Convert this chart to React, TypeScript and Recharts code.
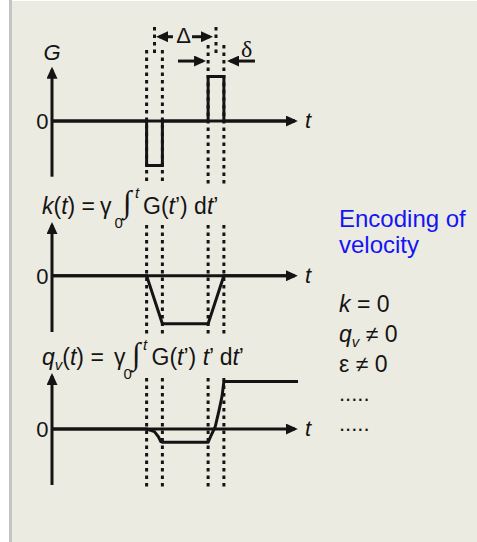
import React from "react";
import { LineChart, Line, XAxis, YAxis, ReferenceLine } from "recharts";

const W = 477;
const H = 542;
const INK = "#141414";
const BLUE = "#1414f5";
const FONT = "'Liberation Sans', Arial, sans-serif";
const SERIF = "'Liberation Serif', 'DejaVu Serif', serif";

// shared time axis (arbitrary units)
const T_MAX = 15.6;
const T_AXIS_END = 15.4;
const pulseEdges = [6, 7, 9.9, 10.9];
const pulseCentres = [6.5, 10.4];

// G(t): bipolar gradient pulse pair
const gTime = [0, 6, 6, 7, 7, 9.9, 9.9, 10.9, 10.9, 15.4];
const gValue = [0, 0, -1, -1, 0, 0, 1, 1, 0, 0];

// k(t): zeroth moment of G
const kTime = [0, 6, 7, 9.9, 10.9, 15.4];
const kValue = [0, 0, -1, -1, 0, 0];

// q_v(t): first moment of G
const qTime = [0, 6, 6.5, 6.75, 6.9, 7, 9.9, 10.1, 10.35, 10.6, 10.78, 10.9, 15.6];
const qValue = [0, 0, -0.2, -0.58, -0.95, -1, -1, -0.45, 0.17, 1.43, 2.43, 3.56, 3.56];

const toRows = (t: number[], v: number[]) => t.map((x, i) => ({ t: x, v: v[i] }));

type PanelProps = {
  rows: { t: number; v: number }[];
  yDomain: [number, number];
  plotTop: number;
  plotBottom: number;
  axisTop: number;
  dots: [number, number][];
  children?: React.ReactNode;
};

const dotted = { stroke: INK, strokeWidth: 3, strokeDasharray: "3.5 4" };
const solid = { stroke: INK, strokeWidth: 3 };

function Panel({ rows, yDomain, plotTop, plotBottom, axisTop, dots, children }: PanelProps) {
  return (
    <div style={{ position: "absolute", left: 0, top: 0 }}>
      <LineChart
        width={W}
        height={H}
        data={rows}
        margin={{ top: plotTop, bottom: H - plotBottom, left: 52, right: W - 298 }}
      >
        <XAxis type="number" dataKey="t" domain={[0, T_MAX]} hide allowDataOverflow />
        <YAxis type="number" domain={yDomain} hide allowDataOverflow />
        {pulseEdges.map((t, i) => (
          <ReferenceLine
            key={"d" + i}
            segment={[{ x: t, y: dots[i][0] }, { x: t, y: dots[i][1] }]}
            ifOverflow="visible"
            {...dotted}
          />
        ))}
        <ReferenceLine
          segment={[{ x: 0, y: yDomain[0] }, { x: 0, y: axisTop }]}
          ifOverflow="visible"
          markerEnd="url(#arrowHead)"
          {...solid}
        />
        <ReferenceLine
          segment={[{ x: 0, y: 0 }, { x: T_AXIS_END, y: 0 }]}
          ifOverflow="visible"
          markerEnd="url(#arrowHead)"
          {...solid}
        />
        {children}
        <Line
          dataKey="v"
          type="linear"
          stroke={INK}
          strokeWidth={3}
          dot={false}
          activeDot={false}
          isAnimationActive={false}
        />
      </LineChart>
    </div>
  );
}

function Labels() {
  const it = { fontStyle: "italic" as const };
  return (
    <svg
      width={W}
      height={H}
      style={{ position: "absolute", left: 0, top: 0, pointerEvents: "none" }}
      fontFamily={FONT}
      fill={INK}
    >
      <defs>
        <marker
          id="arrowHead"
          markerWidth={12}
          markerHeight={11}
          refX={9}
          refY={5.5}
          orient="auto"
          markerUnits="userSpaceOnUse"
        >
          <path d="M0,0 L12,5.5 L0,11 Z" fill={INK} />
        </marker>
      </defs>

      {/* G panel */}
      <text x={52} y={60} fontSize={22} textAnchor="middle" {...it}>G</text>
      <text x={48.5} y={129} fontSize={22} textAnchor="end">0</text>
      <text x={305} y={127.5} fontSize={22} {...it}>t</text>
      <text x={183.5} y={43} fontSize={22} textAnchor="middle">Δ</text>
      <text x={241} y={56.5} fontSize={24} fontFamily={SERIF}>δ</text>

      {/* k panel */}
      <text x={42} y={213.5} fontSize={23}>
        <tspan {...it}>k</tspan>(<tspan {...it}>t</tspan>) =
      </text>
      <text x={100} y={213.5} fontSize={23}>γ</text>
      <text x={114.5} y={227.5} fontSize={15}>0</text>
      <text x={123} y={212} fontSize={31} fontFamily={SERIF}>∫</text>
      <text x={135} y={198} fontSize={15} {...it}>t</text>
      <text x={143} y={213.5} fontSize={23}>
        G(<tspan {...it}>t</tspan>’) d<tspan {...it}>t</tspan>’
      </text>
      <text x={48.5} y={284} fontSize={22} textAnchor="end">0</text>
      <text x={305} y={282.5} fontSize={22} {...it}>t</text>

      {/* q panel */}
      <text x={42} y={365} fontSize={23}>
        <tspan {...it}>q</tspan>
        <tspan {...it} fontSize={15} dy={5}>v</tspan>
        <tspan dy={-5}>(</tspan>
        <tspan {...it}>t</tspan>) =
      </text>
      <text x={114} y={365} fontSize={23}>γ</text>
      <text x={123.5} y={379} fontSize={15}>0</text>
      <text x={132} y={364} fontSize={31} fontFamily={SERIF}>∫</text>
      <text x={143} y={350} fontSize={15} {...it}>t</text>
      <text x={151.5} y={365} fontSize={23}>
        G(<tspan {...it}>t</tspan>’) <tspan {...it}>t</tspan>’ d<tspan {...it}>t</tspan>’
      </text>
      <text x={48.5} y={437} fontSize={22} textAnchor="end">0</text>
      <text x={305} y={435.5} fontSize={22} {...it}>t</text>

      {/* side notes */}
      <text x={339} y={227} fontSize={24} fill={BLUE}>Encoding of</text>
      <text x={339} y={253} fontSize={24} fill={BLUE}>velocity</text>
      <text x={339} y={311.5} fontSize={23}>
        <tspan {...it}>k</tspan> = 0
      </text>
      <text x={339} y={341.5} fontSize={23}>
        <tspan {...it}>q</tspan>
        <tspan {...it} fontSize={15} dy={5}>v</tspan>
        <tspan dy={-5}> ≠ 0</tspan>
      </text>
      <text x={339} y={371.5} fontSize={23}>ε ≠ 0</text>
      <text x={339} y={401} fontSize={22}>.....</text>
      <text x={339} y={431} fontSize={22}>.....</text>
    </svg>
  );
}

export default function App() {
  return (
    <div style={{ position: "absolute", left: 0, top: 0, width: W, height: H, background: "#ffffff", overflow: "hidden" }}>
      <div style={{ position: "absolute", left: 9, top: 0, width: 3, height: H, background: "#c4c4c6" }} />
      <div style={{ position: "absolute", left: 12, top: 1, right: 0, bottom: 0, background: "#ecebe1" }} />

      <Panel
        rows={toRows(gTime, gValue)}
        yDomain={[-1.25, 1.22]}
        plotTop={66.7}
        plotBottom={176.7}
        axisTop={1.153}
        dots={[[1.594, -1.437], [1.594, -1.437], [1.707, -1.437], [1.707, -1.437]]}
      >
        {pulseCentres.map((t, i) => (
          <ReferenceLine
            key={"c" + i}
            segment={[{ x: t, y: 2.11 }, { x: t, y: 1.48 }]}
            ifOverflow="visible"
            {...dotted}
          />
        ))}
        {/* Δ span */}
        <ReferenceLine segment={[{ x: 7.67, y: 1.893 }, { x: 6.79, y: 1.893 }]} ifOverflow="visible" markerEnd="url(#arrowHead)" {...solid} />
        <ReferenceLine segment={[{ x: 8.88, y: 1.893 }, { x: 10.02, y: 1.893 }]} ifOverflow="visible" markerEnd="url(#arrowHead)" {...solid} />
        {/* δ width */}
        <ReferenceLine segment={[{ x: 7.99, y: 1.347 }, { x: 9.58, y: 1.347 }]} ifOverflow="visible" markerEnd="url(#arrowHead)" {...solid} />
        <ReferenceLine segment={[{ x: 12.87, y: 1.347 }, { x: 11.29, y: 1.347 }]} ifOverflow="visible" markerEnd="url(#arrowHead)" {...solid} />
      </Panel>

      <Panel
        rows={toRows(kTime, kValue)}
        yDomain={[-1.17, 1.12]}
        plotTop={222}
        plotBottom={332}
        axisTop={1.058}
        dots={[[1.058, -1.274], [1.058, -1.274], [1.058, -1.274], [1.058, -1.274]]}
      />

      <Panel
        rows={toRows(qTime, qValue)}
        yDomain={[-4.2, 4.2]}
        plotTop={373}
        plotBottom={485}
        axisTop={3.975}
        dots={[[3.83, -4.58], [3.83, -4.58], [3.83, -4.58], [3.83, -4.58]]}
      />

      <Labels />
    </div>
  );
}
